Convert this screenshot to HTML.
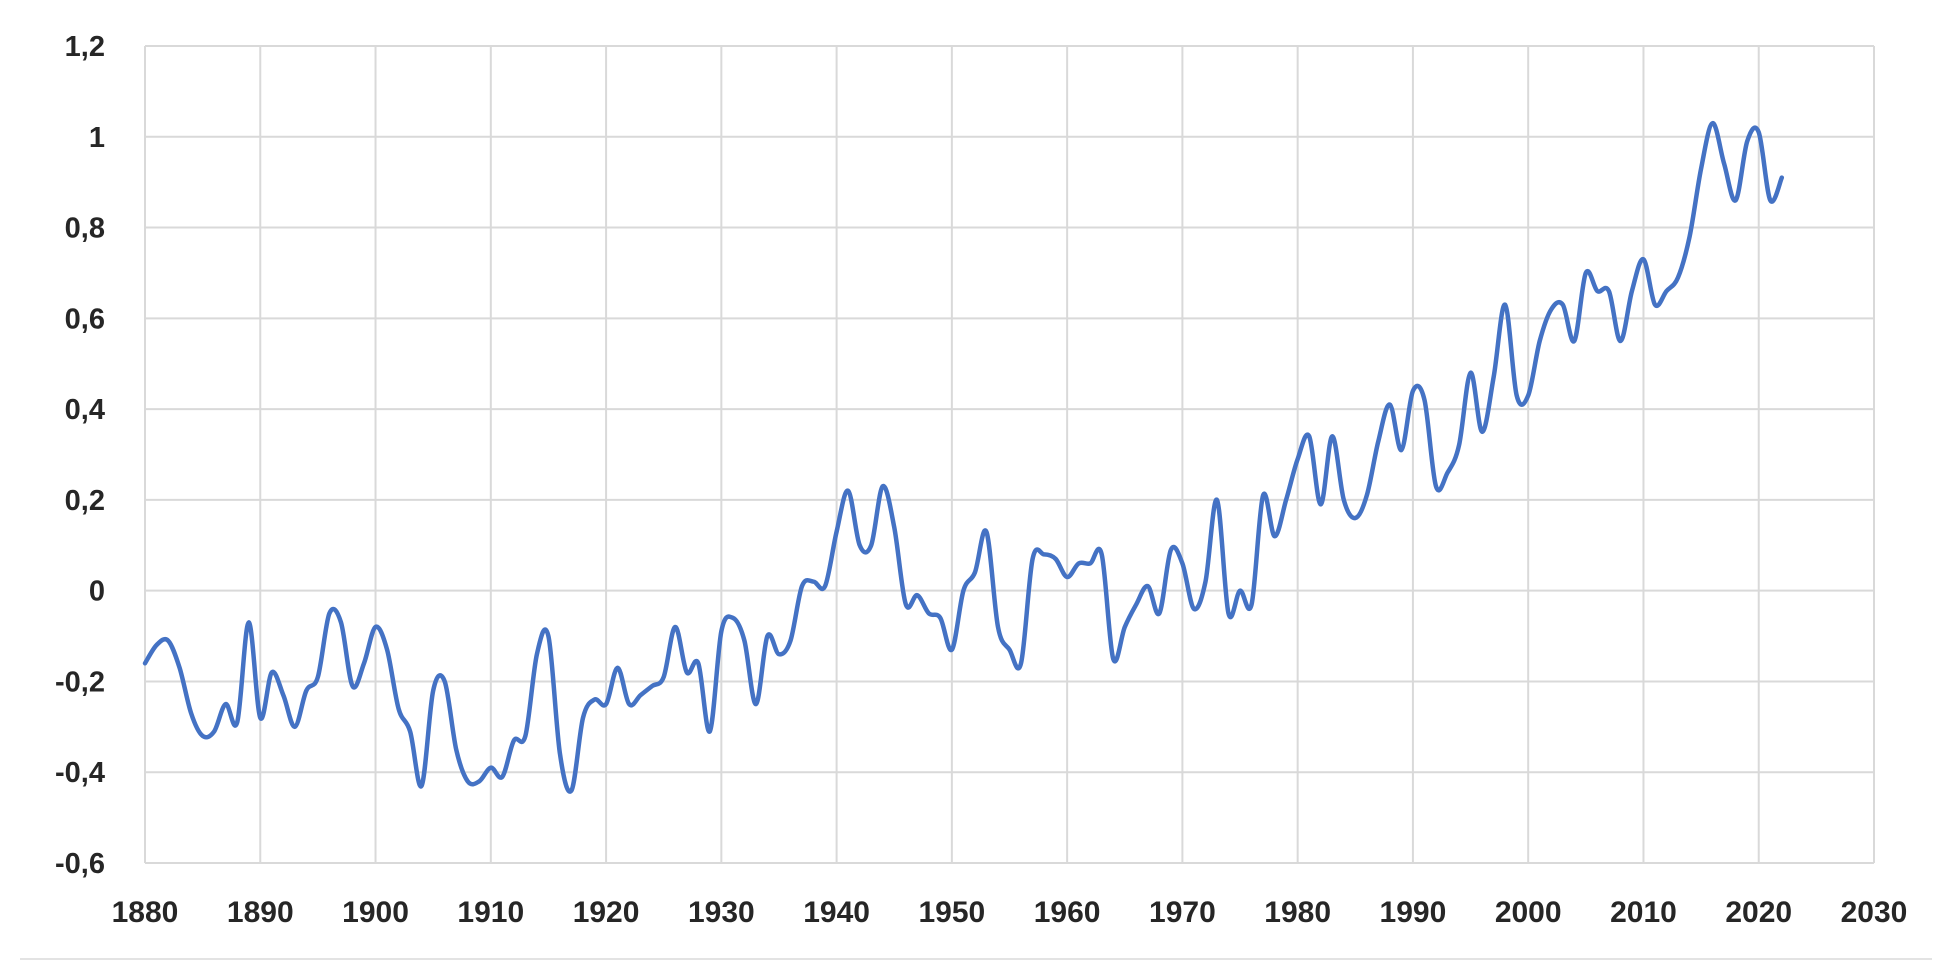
<!DOCTYPE html>
<html><head><meta charset="utf-8"><style>
html,body{margin:0;padding:0;background:#fff;}
svg{display:block;}
text{font-family:"Liberation Sans",sans-serif;font-weight:bold;fill:#262626;}
</style></head><body>
<svg id="chart" width="1950" height="975" viewBox="0 0 1950 975" xmlns="http://www.w3.org/2000/svg">
<g id="grid"></g>
<g id="yaxis"></g>
<g id="xaxis"></g>
<g id="series"></g>
<line x1="20" y1="959" x2="1932" y2="959" stroke="#e3e3e3" stroke-width="2"/>
</svg>
<script>
const startYear = 1880;
const values = [-0.16,-0.12,-0.11,-0.17,-0.27,-0.32,-0.31,-0.25,-0.29,-0.07,
-0.28,-0.18,-0.23,-0.30,-0.22,-0.19,-0.05,-0.07,-0.21,-0.16,
-0.08,-0.13,-0.26,-0.31,-0.43,-0.22,-0.20,-0.35,-0.42,-0.42,
-0.39,-0.41,-0.33,-0.32,-0.14,-0.10,-0.36,-0.44,-0.28,-0.24,
-0.25,-0.17,-0.25,-0.23,-0.21,-0.19,-0.08,-0.18,-0.16,-0.31,
-0.09,-0.06,-0.11,-0.25,-0.10,-0.14,-0.11,0.01,0.02,0.01,
0.13,0.22,0.10,0.10,0.23,0.14,-0.03,-0.01,-0.05,-0.06,
-0.13,0.00,0.04,0.13,-0.08,-0.13,-0.16,0.07,0.08,0.07,
0.03,0.06,0.06,0.08,-0.15,-0.08,-0.03,0.01,-0.05,0.09,
0.06,-0.04,0.02,0.20,-0.05,0.00,-0.03,0.21,0.12,0.20,
0.29,0.34,0.19,0.34,0.20,0.16,0.21,0.33,0.41,0.31,
0.44,0.42,0.23,0.26,0.32,0.48,0.35,0.47,0.63,0.43,
0.43,0.55,0.62,0.63,0.55,0.70,0.66,0.66,0.55,0.66,
0.73,0.63,0.66,0.69,0.78,0.93,1.03,0.94,0.86,0.99,
1.01,0.86,0.91];
const yTicks = [1.2,1,0.8,0.6,0.4,0.2,0,-0.2,-0.4,-0.6];
const xTicks = [1880,1890,1900,1910,1920,1930,1940,1950,1960,1970,1980,1990,2000,2010,2020,2030];

const NS = "http://www.w3.org/2000/svg";
const X0 = 145, X1 = 1874, Y0 = 46, Y1 = 863;
function xs(yr){ return X0 + (yr - 1880) / 150 * (X1 - X0); }
function ys(v){ return Y1 - (v + 0.6) / 1.8 * (Y1 - Y0); }
function mk(tag, attrs, parent){ const e = document.createElementNS(NS, tag); for (const k in attrs) e.setAttribute(k, attrs[k]); parent.appendChild(e); return e; }

const grid = document.getElementById('grid');
const ya = document.getElementById('yaxis');
const xa = document.getElementById('xaxis');
yTicks.forEach(t => {
  const l = mk('line', {x1: X0, x2: X1, y1: ys(t), y2: ys(t), stroke: '#d9d9d9', 'stroke-width': 2}, grid);
  
  
  const tx = mk('text', {x: 105, y: ys(t) + 10, 'text-anchor': 'end', 'font-size': 29}, ya);
  tx.textContent = String(t).replace('.', ',');
  
  
});
xTicks.forEach(t => {
  const l = mk('line', {x1: xs(t), x2: xs(t), y1: Y0, y2: Y1, stroke: '#d9d9d9', 'stroke-width': 2}, grid);
  
  
  const tx = mk('text', {x: xs(t), y: 922, 'text-anchor': 'middle', 'font-size': 30}, xa);
  tx.textContent = t;
  
  
});

const pts = values.map((v, i) => [xs(startYear + i), ys(v)]);
let d = 'M' + pts[0][0].toFixed(1) + ',' + pts[0][1].toFixed(1);
for (let i = 0; i < pts.length - 1; i++) {
  const p0 = pts[Math.max(0, i - 1)], p1 = pts[i], p2 = pts[i + 1], p3 = pts[Math.min(pts.length - 1, i + 2)];
  const c1x = p1[0] + (p2[0] - p0[0]) / 6, c1y = p1[1] + (p2[1] - p0[1]) / 6;
  const c2x = p2[0] - (p3[0] - p1[0]) / 6, c2y = p2[1] - (p3[1] - p1[1]) / 6;
  d += ' C' + c1x.toFixed(1) + ',' + c1y.toFixed(1) + ' ' + c2x.toFixed(1) + ',' + c2y.toFixed(1) + ' ' + p2[0].toFixed(1) + ',' + p2[1].toFixed(1);
}
const line = mk('path', {d: d, fill: 'none', stroke: '#4472C4', 'stroke-width': 4.5, 'stroke-linejoin': 'round', 'stroke-linecap': 'round'}, document.getElementById('series'));


</script>
</body></html>
